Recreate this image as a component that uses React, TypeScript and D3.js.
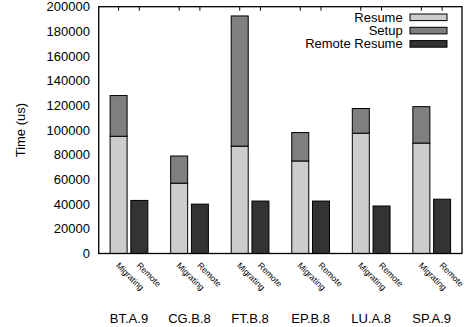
import * as d3 from "d3";
import { useRef, useEffect } from "react";

// benchmarks on the x axis
const benchmarks = ["BT.A.9", "CG.B.8", "FT.B.8", "EP.B.8", "LU.A.8", "SP.A.9"];
const variants = ["Migrating", "Remote"];

// values in microseconds
const resume = [95000, 57000, 87000, 75000, 97500, 89500];
const setup = [33000, 22000, 105500, 23000, 20000, 29500];
const remoteResume = [43000, 40000, 42500, 42500, 38500, 44000];

const yTicks = [0, 20000, 40000, 60000, 80000, 100000, 120000, 140000, 160000, 180000, 200000];

const seriesNames = ["Resume", "Setup", "Remote Resume"];
const seriesColors = ["#cccccc", "#7f7f7f", "#333333"];

const FONT = "'Liberation Sans', Arial, Helvetica, sans-serif";

const App = () => {
    const chartRef = useRef(null);

    const width = 467;
    const height = 327;
    // plot area
    const margin = { top: 6.7, bottom: 73.5, left: 98.7, right: 5 };
    const x0 = margin.left;
    const x1 = width - margin.right;
    const y0 = height - margin.bottom;
    const y1 = margin.top;

    useEffect(() => {
        const svg = d3.select(chartRef.current);
        svg.selectAll("*").remove();

        const scaleX = d3.scaleBand().domain(benchmarks).range([x0, x1]);
        const scaleInner = d3
            .scaleBand()
            .domain(variants)
            .range([0, scaleX.bandwidth()])
            .paddingInner(0.18)
            .paddingOuter(0.55);
        const scaleY = d3.scaleLinear().domain([0, 200000]).range([y0, y1]);
        const bw = scaleInner.bandwidth();

        // y tick labels
        svg.append("g")
            .selectAll("text")
            .data(yTicks)
            .enter()
            .append("text")
            .attr("x", 90)
            .attr("y", d => scaleY(d) + 4.6)
            .attr("text-anchor", "end")
            .style("font-family", FONT)
            .style("font-size", "13px")
            .text(d => d);

        // y axis title
        svg.append("text")
            .attr("transform", `translate(25, ${(y0 + y1) / 2}) rotate(-90)`)
            .attr("text-anchor", "middle")
            .style("font-family", FONT)
            .style("font-size", "13px")
            .text("Time (us)");

        // top ticks (mirror)
        const tickPos = [];
        benchmarks.forEach(b => variants.forEach(v => tickPos.push(scaleX(b) + scaleInner(v) + bw / 2)));
        svg.append("g")
            .selectAll("line")
            .data(tickPos)
            .enter()
            .append("line")
            .attr("x1", d => d)
            .attr("x2", d => d)
            .attr("y1", y1)
            .attr("y2", y1 + 4)
            .style("stroke", "#000")
            .style("stroke-width", 1);

        // stacked migrating bars
        const stacks = benchmarks.map((b, i) => ({ b, parts: [[0, resume[i]], [resume[i], resume[i] + setup[i]]] }));
        stacks.forEach(s => {
            s.parts.forEach((p, k) => {
                svg.append("rect")
                    .attr("x", scaleX(s.b) + scaleInner("Migrating"))
                    .attr("y", scaleY(p[1]))
                    .attr("width", bw)
                    .attr("height", scaleY(p[0]) - scaleY(p[1]))
                    .style("fill", seriesColors[k])
                    .style("stroke", "#000")
                    .style("stroke-width", 1);
            });
        });

        // remote bars
        svg.append("g")
            .selectAll("rect")
            .data(benchmarks)
            .enter()
            .append("rect")
            .attr("x", d => scaleX(d) + scaleInner("Remote"))
            .attr("y", (d, i) => scaleY(remoteResume[i]))
            .attr("width", bw)
            .attr("height", (d, i) => y0 - scaleY(remoteResume[i]))
            .style("fill", seriesColors[2])
            .style("stroke", "#000")
            .style("stroke-width", 1);

        // frame
        svg.append("rect")
            .attr("x", x0)
            .attr("y", y1)
            .attr("width", x1 - x0)
            .attr("height", y0 - y1)
            .style("fill", "none")
            .style("stroke", "#000")
            .style("stroke-width", 1.3);

        // rotated variant labels
        benchmarks.forEach(b => {
            variants.forEach(v => {
                const cx = scaleX(b) + scaleInner(v) + bw / 2;
                svg.append("text")
                    .attr("transform", `translate(${cx - 3.2}, ${y0 + 12.5}) rotate(45)`)
                    .style("font-family", FONT)
                    .style("font-size", "8.6px")
                    .text(v);
            });
        });

        // benchmark labels
        svg.append("g")
            .selectAll("text")
            .data(benchmarks)
            .enter()
            .append("text")
            .attr("x", d => scaleX(d) + scaleX.bandwidth() / 2)
            .attr("y", 322.5)
            .attr("text-anchor", "middle")
            .style("font-family", FONT)
            .style("font-size", "13px")
            .text(d => d);

        // legend
        const legend = svg.append("g");
        seriesNames.forEach((name, i) => {
            const cy = 17.3 + i * 13.3;
            legend.append("text")
                .attr("x", 402.7)
                .attr("y", cy + 4.4)
                .attr("text-anchor", "end")
                .style("font-family", FONT)
                .style("font-size", "13px")
                .text(name);
            legend.append("rect")
                .attr("x", 410)
                .attr("y", cy - 3.3)
                .attr("width", 37)
                .attr("height", 6.6)
                .style("fill", seriesColors[i])
                .style("stroke", "#000")
                .style("stroke-width", 1);
        });
    }, []);

    return (
        <svg ref={chartRef} width={width} height={height}
             style={{ position: "absolute", left: 0, top: 0, background: "#fff" }}></svg>
    );
};

export default App;
